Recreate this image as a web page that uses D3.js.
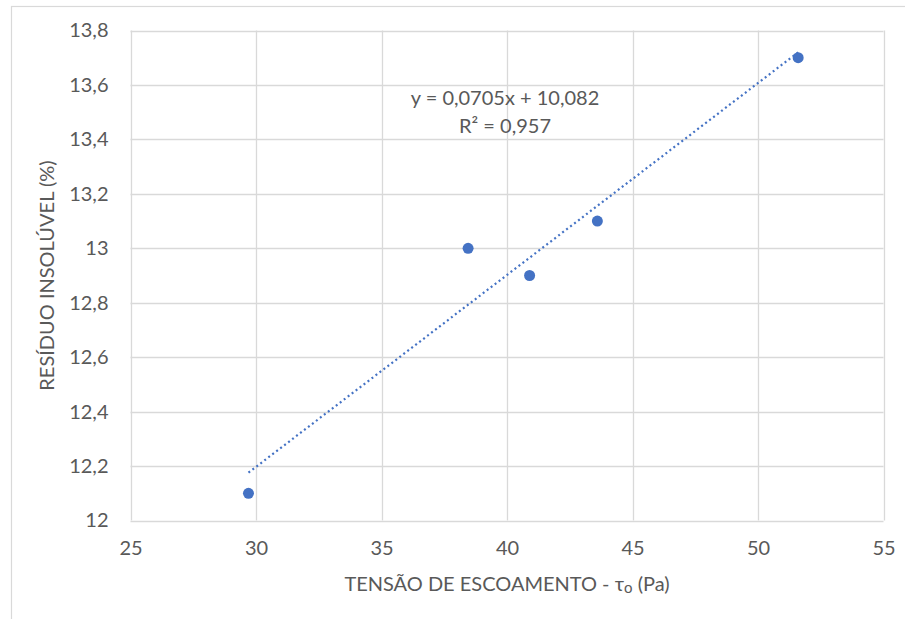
<!DOCTYPE html>
<html><head><meta charset="utf-8">
<script src="https://cdn.jsdelivr.net/npm/d3@7"></script>
<style>html,body{margin:0;padding:0;background:#fff;overflow:hidden}</style>
</head><body>
<svg id="c" width="905" height="619"></svg>
<script>
const xValues = [29.7, 38.45, 40.9, 43.6, 51.6];
const yValues = [12.1, 13.0, 12.9, 13.1, 13.7];
const xTicks = [25, 30, 35, 40, 45, 50, 55];
const yTicks = [12, 12.2, 12.4, 12.6, 12.8, 13, 13.2, 13.4, 13.6, 13.8];
const slope = 0.0705, intercept = 10.082;
const eqText = ["y = 0,0705x + 10,082", "R² = 0,957"];
const xTitle = ["TENSÃO DE ESCOAMENTO - τ", "o", " (Pa)"];
const yTitle = "RESÍDUO INSOLÚVEL (%)";

const svg = d3.select("#c");
const font = "Lato, 'Open Sans', sans-serif";
const fs = "20px";
const L = 130.5, R = 883.5, T = 30.5, B = 520.5;
const x = d3.scaleLinear().domain([25, 55]).range([L, R]);
const y = d3.scaleLinear().domain([12, 13.8]).range([B, T]);
const fmt = v => String(+v.toFixed(1)).replace(".", ",");

// outer frame
svg.append("rect").attr("x", 11.5).attr("y", 6.5).attr("width", 920).attr("height", 640)
  .attr("fill", "none").attr("stroke", "#d9d9d9").attr("stroke-width", 1.2);

// grid
const g = svg.append("g");
g.selectAll(".vx").data(xTicks).join("line")
  .attr("x1", d => Math.round(x(d)) + 0.5).attr("x2", d => Math.round(x(d)) + 0.5)
  .attr("y1", T).attr("y2", B).attr("stroke", "#d9d9d9").attr("stroke-width", 1.3);
g.selectAll(".hy").data(yTicks).join("line")
  .attr("y1", d => Math.round(y(d)) + 0.5).attr("y2", d => Math.round(y(d)) + 0.5)
  .attr("x1", L).attr("x2", R).attr("stroke", "#d9d9d9").attr("stroke-width", 1.3);

// axes labels via d3 axis
const xAxis = svg.append("g").attr("transform", `translate(0,${B})`)
  .call(d3.axisBottom(x).tickValues(xTicks).tickSize(0).tickPadding(20).tickFormat(d => d));
const yAxis = svg.append("g").attr("transform", `translate(${L},0)`)
  .call(d3.axisLeft(y).tickValues(yTicks).tickSize(0).tickPadding(22).tickFormat(fmt));
[xAxis, yAxis].forEach(a => {
  a.select(".domain").remove();
  a.selectAll("text").attr("fill", "#595959").style("font-family", font).style("font-size", fs);
});

// trendline
const xs = d3.extent(xValues);
svg.append("line")
  .attr("x1", x(xs[0])).attr("y1", y(slope * xs[0] + intercept))
  .attr("x2", x(xs[1])).attr("y2", y(slope * xs[1] + intercept))
  .attr("stroke", "#4472C4").attr("stroke-width", 2.2)
  .attr("stroke-dasharray", "2,3").attr("stroke-linecap", "butt");

// points
svg.selectAll(".pt").data(xValues).join("circle")
  .attr("cx", d => x(d)).attr("cy", (d, i) => y(yValues[i])).attr("r", 5.5)
  .attr("fill", "#4472C4");

// equation
svg.append("text").attr("x", 505).attr("y", 105).attr("text-anchor", "middle")
  .attr("fill", "#595959").style("font-family", font).style("font-size", fs).text(eqText[0]);
svg.append("text").attr("x", 505).attr("y", 133).attr("text-anchor", "middle")
  .attr("fill", "#595959").style("font-family", font).style("font-size", fs).text(eqText[1]);

// titles
const xt = svg.append("text").attr("x", (L + R) / 2).attr("y", 591).attr("text-anchor", "middle")
  .attr("fill", "#595959").style("font-family", font).style("font-size", fs);
xt.append("tspan").text(xTitle[0]);
xt.append("tspan").attr("dy", 2).style("font-size", "15px").text(xTitle[1]);
xt.append("tspan").attr("dy", -2).text(xTitle[2]);
svg.append("text").attr("transform", `translate(54,${(T + B) / 2}) rotate(-90)`).attr("text-anchor", "middle")
  .attr("fill", "#595959").style("font-family", font).style("font-size", fs).text(yTitle);
</script>
</body></html>
